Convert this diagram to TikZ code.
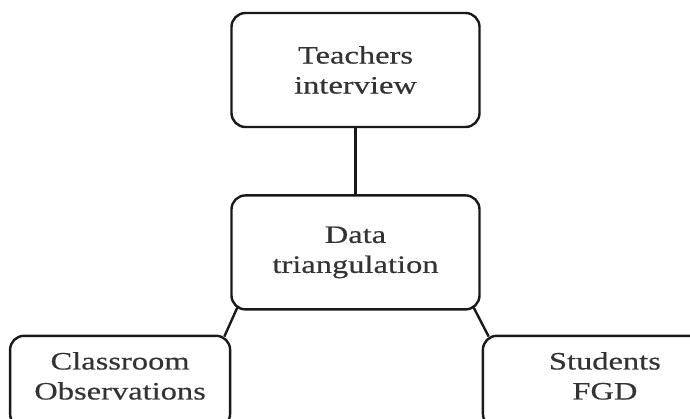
\documentclass[tikz,border=0pt]{standalone}
\usepackage{fontspec}
\setmainfont[FakeStretch=1.3, FakeBold=0.4]{Liberation Serif}
\usetikzlibrary{positioning}

\begin{document}
\begin{tikzpicture}[
  x=1pt, y=1pt,
  box/.style={rectangle, draw, rounded corners=14pt, line width=2.4pt, align=center, minimum height=114pt, font=\fontsize{25}{30}\selectfont, text=black!80, draw=black!90},
  lowbox/.style={box, minimum height=92pt, text depth=12pt},
  link/.style={line width=2.4pt, draw=black!90}
]
\useasboundingbox (0,0) rectangle (690,-419);
\node[box, minimum width=248pt] (teach) at (355.5,-70) {Teachers\\ interview};
\node[box, minimum width=248pt, below=66pt of teach] (tri) {Data\\ triangulation};
\node[lowbox, minimum width=220pt, below left=24pt and -1pt of tri] (obs) {Classroom\\ Observations};
\node[lowbox, minimum width=244pt, below right=24pt and 1pt of tri] (fgd) {Students\\ FGD};
\draw[link] (teach) -- (tri);
\draw[link] ([shift={(7pt,3pt)}]tri.south west) -- ([shift={(-7pt,-2pt)}]obs.north east);
\draw[link] ([shift={(-7pt,3pt)}]tri.south east) -- ([shift={(7pt,-2pt)}]fgd.north west);
\end{tikzpicture}
\end{document}
